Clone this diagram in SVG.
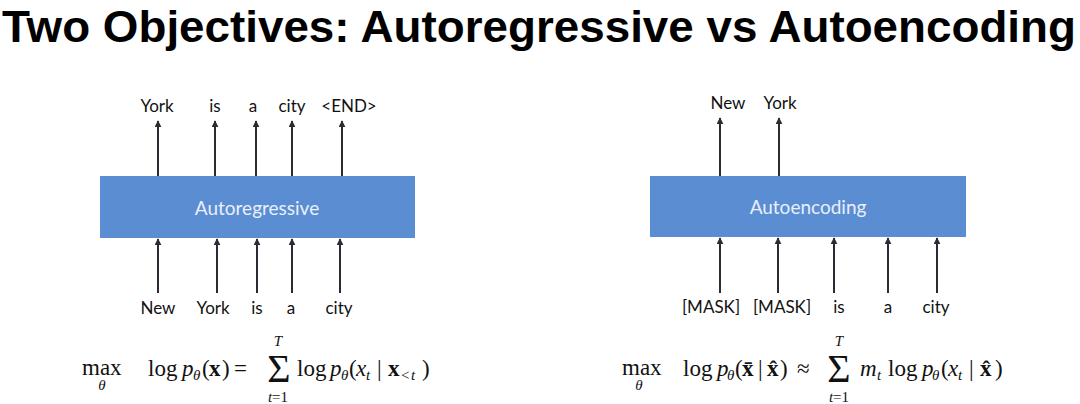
<svg xmlns="http://www.w3.org/2000/svg" width="1080" height="404" viewBox="0 0 1080 404">
<style>
.title{font-family:"Liberation Sans",Arial,sans-serif;font-weight:bold;font-size:45px;fill:#000}
.lbl{font-family:Lato,"Open Sans",sans-serif;font-size:17px;fill:#111;text-anchor:middle}
.box{fill:#5b8dd2}
.boxlbl{font-family:Lato,"Open Sans",sans-serif;font-size:19px;fill:#e9f0fb;text-anchor:middle}
.arr{stroke:#2b2b33;stroke-width:2;fill:none;marker-end:url(#ah)}
.m{font-family:"Liberation Serif","DejaVu Serif",serif;font-size:23px;fill:#111}
.ms{font-family:"Liberation Serif","DejaVu Serif",serif;font-size:15px;fill:#111}
.sig{font-family:"Liberation Serif","DejaVu Serif",serif;font-size:40px;fill:#111;text-anchor:middle}
.it{font-style:italic}
.bd{font-weight:bold}
.sb{font-size:15px}
</style>
<defs>
<marker id="ah" viewBox="0 0 10 10" refX="9" refY="5" markerWidth="3.5" markerHeight="3.5" orient="auto" markerUnits="strokeWidth">
<path d="M0,0 L10,5 L0,10 z" fill="#2b2b33"/>
</marker>
</defs>
<rect width="1080" height="404" fill="#ffffff"/>
<text class="title" x="2" y="42" textLength="1074" lengthAdjust="spacingAndGlyphs">Two Objectives: Autoregressive vs Autoencoding</text>

<g id="autoregressive">
<rect class="box" x="100" y="176" width="315" height="62"/>
<text class="boxlbl" x="257" y="215">Autoregressive</text>
</g>
<g id="autoencoding">
<rect class="box" x="650" y="176" width="316" height="61"/>
<text class="boxlbl" x="808" y="214">Autoencoding</text>
</g>

<g id="ar-outputs">
<text class="lbl" x="157" y="112">York</text>
<text class="lbl" x="215" y="112">is</text>
<text class="lbl" x="253" y="112">a</text>
<text class="lbl" x="292" y="112">city</text>
<text class="lbl" x="349" y="112">&lt;END&gt;</text>
</g>
<g id="ar-inputs">
<text class="lbl" x="158" y="314">New</text>
<text class="lbl" x="213" y="314">York</text>
<text class="lbl" x="257" y="314">is</text>
<text class="lbl" x="291" y="314">a</text>
<text class="lbl" x="339" y="314">city</text>
</g>
<g id="ae-outputs">
<text class="lbl" x="728" y="109">New</text>
<text class="lbl" x="780" y="109">York</text>
</g>
<g id="ae-inputs">
<text class="lbl" x="711" y="313">[MASK]</text>
<text class="lbl" x="782" y="313">[MASK]</text>
<text class="lbl" x="839" y="313">is</text>
<text class="lbl" x="888" y="313">a</text>
<text class="lbl" x="936" y="313">city</text>
</g>

<g id="connectors">
<line class="arr" x1="158" y1="176" x2="158" y2="121"/>
<line class="arr" x1="215" y1="176" x2="215" y2="121"/>
<line class="arr" x1="256" y1="176" x2="256" y2="121"/>
<line class="arr" x1="292" y1="176" x2="292" y2="121"/>
<line class="arr" x1="342" y1="176" x2="342" y2="121"/>
<line class="arr" x1="158" y1="293" x2="158" y2="239"/>
<line class="arr" x1="217" y1="293" x2="217" y2="239"/>
<line class="arr" x1="257" y1="293" x2="257" y2="239"/>
<line class="arr" x1="292" y1="293" x2="292" y2="239"/>
<line class="arr" x1="340" y1="293" x2="340" y2="239"/>
<line class="arr" x1="720" y1="176" x2="720" y2="118"/>
<line class="arr" x1="779" y1="176" x2="779" y2="118"/>
<line class="arr" x1="720" y1="293" x2="720" y2="238"/>
<line class="arr" x1="778" y1="293" x2="778" y2="238"/>
<line class="arr" x1="834" y1="293" x2="834" y2="238"/>
<line class="arr" x1="888" y1="293" x2="888" y2="238"/>
<line class="arr" x1="937" y1="293" x2="937" y2="238"/>
</g>

<g id="ar-formula">
<text class="m" x="82" y="375">max</text>
<text class="ms it" x="102" y="390" text-anchor="middle">θ</text>
<text class="m" y="376"><tspan x="148">log</tspan><tspan class="it" x="182">p</tspan><tspan class="it sb" x="193" y="380">θ</tspan><tspan x="202" y="376">(</tspan><tspan class="bd" x="209">x</tspan><tspan x="222">)</tspan><tspan x="234">=</tspan></text>
<text class="sig" x="279" y="382">Σ</text>
<text class="ms it" x="278" y="346" text-anchor="middle">T</text>
<text class="ms" x="278" y="402" text-anchor="middle"><tspan class="it">t</tspan>=1</text>
<text class="m" y="376"><tspan x="297">log</tspan><tspan class="it" x="330">p</tspan><tspan class="it sb" x="341" y="380">θ</tspan><tspan x="349" y="376">(</tspan><tspan class="it" x="356">x</tspan><tspan class="it sb" x="366" y="380">t</tspan><tspan x="377" y="376">|</tspan><tspan class="bd" x="388">x</tspan><tspan class="sb" x="401" y="380">&lt;</tspan><tspan class="it sb" x="411">t</tspan><tspan x="422" y="376">)</tspan></text>
</g>

<g id="ae-formula">
<text class="m" x="622" y="375">max</text>
<text class="ms it" x="639" y="390" text-anchor="middle">θ</text>
<text class="m" y="376"><tspan x="683">log</tspan><tspan class="it" x="717">p</tspan><tspan class="it sb" x="727" y="380">θ</tspan><tspan x="735" y="376">(</tspan><tspan class="bd" x="742">x̄</tspan><tspan x="758">|</tspan><tspan class="bd" x="767">x̂</tspan><tspan x="780">)</tspan><tspan x="797">≈</tspan></text>
<text class="sig" x="839" y="382">Σ</text>
<text class="ms it" x="839" y="346" text-anchor="middle">T</text>
<text class="ms" x="839" y="402" text-anchor="middle"><tspan class="it">t</tspan>=1</text>
<text class="m" y="376"><tspan class="it" x="860">m</tspan><tspan class="it sb" x="877" y="380">t</tspan><tspan x="888" y="376">log</tspan><tspan class="it" x="922">p</tspan><tspan class="it sb" x="932" y="380">θ</tspan><tspan x="941" y="376">(</tspan><tspan class="it" x="948">x</tspan><tspan class="it sb" x="958" y="380">t</tspan><tspan x="969" y="376">|</tspan><tspan class="bd" x="980">x̂</tspan><tspan x="995">)</tspan></text>
</g>
</svg>
